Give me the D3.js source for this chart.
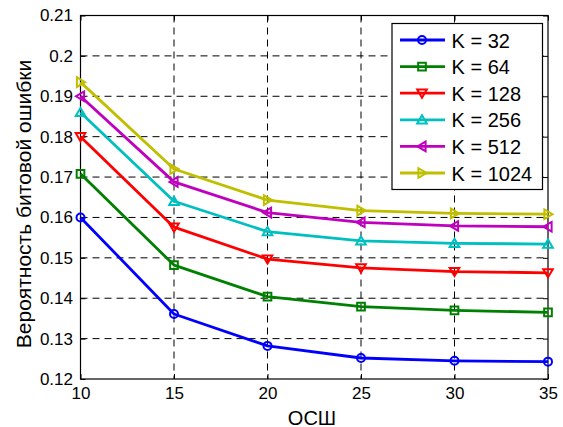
<!DOCTYPE html>
<html><head><meta charset="utf-8">
<script src="https://cdn.jsdelivr.net/npm/d3@7"></script>
<style>body{margin:0;background:#fff}svg{display:block;font-family:Arial,"Liberation Sans",sans-serif}</style>
</head><body><svg id="c" width="563" height="427"></svg>
<script>
const snr = [10, 15, 20, 25, 30, 35];
const seriesNames = ["K = 32", "K = 64", "K = 128", "K = 256", "K = 512", "K = 1024"];
const k32   = [0.1600, 0.1361, 0.1282, 0.1252, 0.1245, 0.1243];
const k64   = [0.1708, 0.1482, 0.1404, 0.1379, 0.1370, 0.1365];
const k128  = [0.1800, 0.1576, 0.1497, 0.1475, 0.1466, 0.1463];
const k256  = [0.1860, 0.1640, 0.1565, 0.1542, 0.1536, 0.1534];
const k512  = [0.1900, 0.1688, 0.1612, 0.1588, 0.1579, 0.1577];
const k1024 = [0.1935, 0.1720, 0.1643, 0.1617, 0.1610, 0.1608];
const xTicks = [10, 15, 20, 25, 30, 35];
const yTicks = [0.12, 0.13, 0.14, 0.15, 0.16, 0.17, 0.18, 0.19, 0.2, 0.21];
const yTickLabels = ["0.12","0.13","0.14","0.15","0.16","0.17","0.18","0.19","0.2","0.21"];
const colors = ["#0000ff", "#008000", "#ff0000", "#00bfbf", "#bf00bf", "#bfbf00"];
const markers = ["circle", "square", "tdown", "tup", "tleft", "tright"];
const allSeries = [k32, k64, k128, k256, k512, k1024];

const svg = d3.select("#c");
const L = 80.5, R = 548, T = 15.5, B = 379;
const x = d3.scaleLinear().domain([10, 35]).range([L, R]);
const y = d3.scaleLinear().domain([0.12, 0.21]).range([B, T]);

// grid
const g = svg.append("g");
g.selectAll(".gx").data(xTicks.slice(1, -1)).enter().append("line")
  .attr("x1", d => x(d)).attr("x2", d => x(d)).attr("y1", T).attr("y2", B)
  .attr("stroke", "#000").attr("stroke-width", 1).attr("stroke-dasharray", "7,5");
g.selectAll(".gy").data(yTicks.slice(1, -1)).enter().append("line")
  .attr("y1", d => y(d)).attr("y2", d => y(d)).attr("x1", L).attr("x2", R)
  .attr("stroke", "#000").attr("stroke-width", 1).attr("stroke-dasharray", "7,5");

// axes
const xAxis = d3.axisBottom(x).tickValues(xTicks).tickSize(-5).tickPadding(8).tickFormat(d3.format("d"));
const yAxis = d3.axisLeft(y).tickValues(yTicks).tickSize(-5).tickPadding(7.5).tickFormat((d, i) => yTickLabels[i]);
const ax = svg.append("g").attr("transform", `translate(0,${B})`).call(xAxis);
const ay = svg.append("g").attr("transform", `translate(${L},0)`).call(yAxis);
const axT = svg.append("g").attr("transform", `translate(0,${T})`).call(d3.axisTop(x).tickValues(xTicks).tickSize(-5).tickFormat(""));
const ayR = svg.append("g").attr("transform", `translate(${R},0)`).call(d3.axisRight(y).tickValues(yTicks).tickSize(-5).tickFormat(""));
[ax, ay, axT, ayR].forEach(a => {
  a.select(".domain").remove();
  a.selectAll("line").attr("stroke", "#000");
  a.selectAll("text").attr("fill", "#000").style("font-size", "17px").style("font-family", "Arial, 'Liberation Sans', sans-serif");
});
svg.append("rect").attr("x", L).attr("y", T).attr("width", R - L).attr("height", B - T)
  .attr("fill", "none").attr("stroke", "#000").attr("stroke-width", 1.2);

// marker drawing
function markerPath(type, s) {
  const h = s;
  switch (type) {
    case "square": return `M${-s*0.8},${-s*0.8}h${s*1.6}v${s*1.6}h${-s*1.6}Z`;
    case "tdown": return `M${-h},${-h*0.75}L${h},${-h*0.75}L0,${h*0.95}Z`;
    case "tup": return `M${-h},${h*0.75}L${h},${h*0.75}L0,${-h*0.95}Z`;
    case "tleft": return `M${h*0.75},${-h}L${h*0.75},${h}L${-h*0.95},0Z`;
    case "tright": return `M${-h*0.75},${-h}L${-h*0.75},${h}L${h*0.95},0Z`;
  }
}
function drawMarker(sel, type, color, cx, cy) {
  if (type === "circle") {
    sel.append("circle").attr("cx", cx).attr("cy", cy).attr("r", 4)
      .attr("fill", "none").attr("stroke", color).attr("stroke-width", 2);
  } else {
    sel.append("path").attr("d", markerPath(type, 4.8)).attr("transform", `translate(${cx},${cy})`)
      .attr("fill", "none").attr("stroke", color).attr("stroke-width", 2).attr("stroke-linejoin", "miter");
  }
}

const line = d3.line().x((d, i) => x(snr[i])).y(d => y(d));
allSeries.forEach((vals, si) => {
  const sg = svg.append("g");
  sg.append("path").datum(vals).attr("d", line).attr("fill", "none")
    .attr("stroke", colors[si]).attr("stroke-width", 2.8).attr("stroke-linejoin", "round");
  vals.forEach((v, i) => drawMarker(sg, markers[si], colors[si], x(snr[i]), y(v)));
});

// legend
const lg = svg.append("g");
lg.append("rect").attr("x", 392).attr("y", 23.5).attr("width", 150.5).attr("height", 166)
  .attr("fill", "#fff").attr("stroke", "#000").attr("stroke-width", 1.2);
seriesNames.forEach((n, i) => {
  const yy = 40 + i * 26.6;
  lg.append("line").attr("x1", 400).attr("x2", 445).attr("y1", yy).attr("y2", yy)
    .attr("stroke", colors[i]).attr("stroke-width", 2.8);
  drawMarker(lg, markers[i], colors[i], 422, yy);
  lg.append("text").attr("x", 451.5).attr("y", yy + 7.5).text(n)
    .style("font-size", "20px").attr("fill", "#000");
});

// labels
svg.append("text").attr("x", 312).attr("y", 424.5).attr("text-anchor", "middle")
  .style("font-size", "20px").text("ОСШ");
svg.append("text").attr("transform", `translate(30.5,204) rotate(-90)`).attr("text-anchor", "middle")
  .style("font-size", "21px").text("Вероятность битовой ошибки");
</script></body></html>
